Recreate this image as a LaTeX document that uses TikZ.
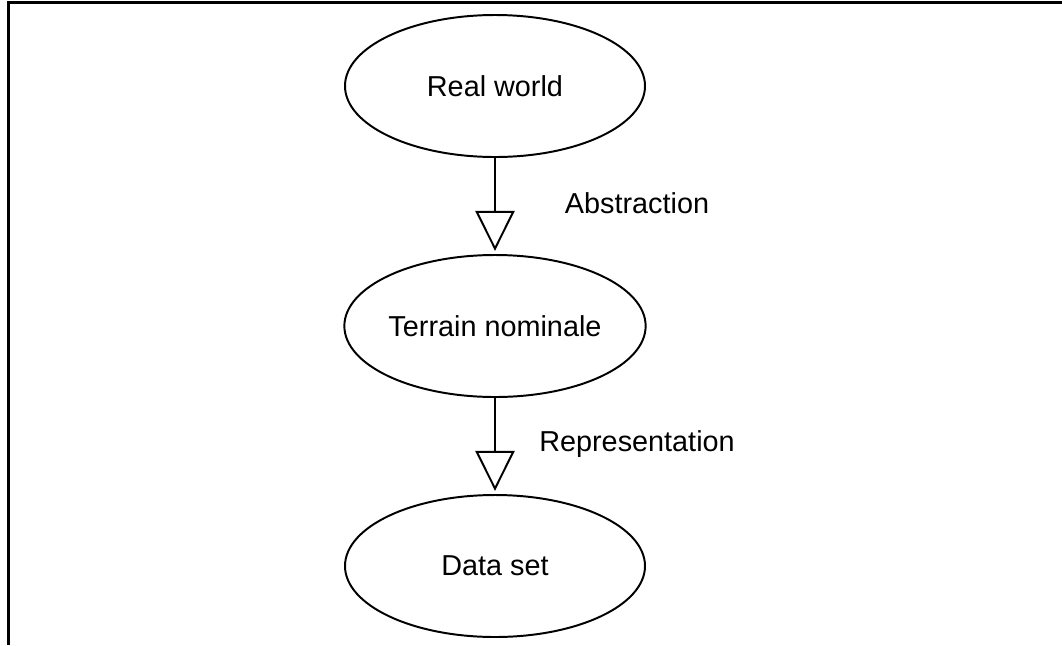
\documentclass[tikz,border=0pt]{standalone}
\usepackage{fontspec}
\setmainfont{Liberation Sans}
\usetikzlibrary{shapes, arrows.meta}

\begin{document}
\begin{tikzpicture}[
        stage/.style={draw, ellipse, line width=1.4pt, minimum width=7.5cm, minimum height=3.55cm, inner sep=0pt, font=\fontsize{20.5}{24}\selectfont},
        flow/.style={-{Triangle[open, length=1cm, width=0.98cm]}, line width=1.4pt, shorten >=0.08cm},
        tag/.style={font=\fontsize{20.5}{24}\selectfont}
    ]
            \useasboundingbox (0, 0) rectangle (26.55, -16.125);
            \draw[line width=2.1pt] (0.2125, -16.125) -- (0.2125, -0.07) -- (26.55, -0.07);

            \node[stage] (world) at (12.375, -2.15) {Real world};
            \node[stage] (terrain) at (12.375, -8.15) {Terrain nominale};
            \node[stage] (data) at (12.375, -14.15) {Data set};

            \draw[flow] (world) -- node[tag, midway, xshift=3.55cm, yshift=0.08cm] (abs) {Abstraction} (terrain);
            \draw[flow] (terrain) -- node[tag, midway, xshift=3.55cm, yshift=0.05cm] (rep) {Representation} (data);
\end{tikzpicture}
\end{document}
